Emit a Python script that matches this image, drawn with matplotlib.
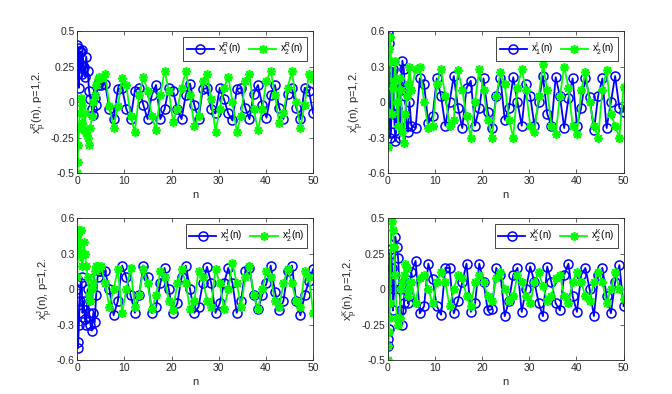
import numpy as np
import matplotlib
matplotlib.use('Agg')
import matplotlib.pyplot as plt

plt.rcParams['font.family'] = ['Liberation Sans', 'DejaVu Sans']
plt.rcParams['mathtext.fontset'] = 'custom'
plt.rcParams['mathtext.rm'] = 'Liberation Sans'

# sample points (solver output, dense at the start)
n = [0, 0.1, 0.2, 0.35, 0.5, 0.7, 0.9, 1.1, 1.35, 1.6, 1.9, 2.2, 2.5, 2.8, 3.1,
     3.4, 3.7, 4.0, 4.3, 4.6,
     5.0, 5.9, 6.8, 7.7, 8.6, 9.5, 10.4, 11.3, 12.2, 13.1, 14.0, 14.9, 15.8, 16.7,
     17.6, 18.5, 19.4, 20.3, 21.2, 22.1, 23.0, 23.9, 24.8, 25.7, 26.6, 27.5, 28.4,
     29.3, 30.2, 31.1, 32.0, 32.9, 33.8, 34.7, 35.6, 36.5, 37.4, 38.3, 39.2, 40.1,
     41.0, 41.9, 42.8, 43.7, 44.6, 45.5, 46.4, 47.3, 48.2, 49.1, 50.0]

x1R = [0.40, 0.38, 0.20, 0.10, 0.36, 0.35, 0.20, 0.37, 0.25, 0.18, 0.32, 0.22, 0.08, 0.02, -0.05,
       -0.09, 0.03, -0.02, 0.12, 0.14,
       0.12, 0.13, -0.05, -0.12, 0.09, 0.10, -0.05, -0.12, 0.08, 0.10, -0.02, -0.12, 0.05, 0.12,
       -0.12, -0.05, 0.10, 0.08, -0.05, -0.12, 0.05, 0.13, -0.02, -0.12, 0.09, 0.10, -0.05,
       -0.08, 0.10, 0.02, -0.08, -0.13, 0.09, 0.10, -0.04, -0.12, 0.06, 0.12, -0.02, -0.11,
       0.05, 0.12, -0.04, -0.12, 0.06, 0.10, -0.04, -0.12, 0.10, 0.08, -0.08]
x2R = [-0.50, -0.42, -0.30, -0.18, -0.08, 0.03, -0.02, -0.15, -0.20, -0.08, -0.22, -0.25, -0.30, -0.18, -0.10,
       0.00, 0.05, 0.12, 0.16, 0.18,
       0.17, 0.20, -0.03, -0.18, -0.03, 0.17, 0.12, -0.10, -0.21, 0.05, 0.18, 0.08, -0.10, -0.20,
       0.05, 0.22, 0.08, -0.14, -0.05, 0.10, 0.22, 0.05, -0.17, -0.10, 0.15, 0.20, 0.02,
       -0.21, -0.05, 0.10, 0.18, 0.00, -0.21, -0.10, 0.15, 0.20, -0.05, -0.20, -0.05, 0.15,
       0.22, 0.05, -0.15, -0.08, 0.10, 0.22, 0.00, -0.18, -0.02, 0.20, 0.16]

x1I = [0.55, 0.58, 0.50, 0.20, -0.30, -0.25, 0.25, 0.28, -0.10, -0.33, -0.05, 0.15, -0.30, 0.10, 0.35,
       0.28, 0.05, -0.20, -0.25, 0.00,
       -0.20, -0.22, 0.20, 0.15, -0.18, -0.12, 0.20, 0.05, -0.20, 0.00, 0.22, -0.05, -0.22, 0.12,
       0.18, -0.20, -0.05, 0.20, -0.08, -0.22, 0.05, 0.20, -0.15, -0.05, 0.21, 0.00, -0.20,
       0.15, 0.05, -0.20, 0.00, 0.22, -0.10, -0.20, 0.21, 0.05, -0.22, 0.03, 0.20, -0.20,
       -0.05, 0.20, 0.04, -0.24, 0.05, 0.20, -0.22, 0.00, 0.22, -0.05, -0.08]
x2I = [-0.38, -0.08, 0.35, 0.45, 0.55, 0.35, -0.10, 0.12, 0.18, 0.35, 0.00, -0.20, 0.20, 0.10, -0.25,
       -0.35, -0.10, 0.05, 0.15, 0.30,
       0.10, 0.28, 0.30, 0.00, -0.22, -0.20, 0.15, 0.28, 0.05, -0.20, -0.15, 0.27, 0.10, -0.12,
       -0.30, 0.00, 0.28, 0.10, -0.15, -0.30, 0.05, 0.25, 0.15, -0.15, -0.30, 0.12, 0.28,
       0.10, -0.20, -0.25, 0.05, 0.32, 0.10, -0.20, -0.27, 0.05, 0.30, 0.12, -0.20, -0.27,
       0.10, 0.25, 0.00, -0.20, -0.30, 0.10, 0.27, -0.10, -0.20, -0.30, 0.13]

x1J = [0.00, -0.50, -0.45, -0.30, -0.10, 0.05, 0.10, -0.20, -0.10, -0.25, -0.30, 0.00, -0.20, -0.30, -0.35,
       -0.20, -0.28, -0.05, 0.10, 0.15,
       0.15, 0.15, 0.00, -0.22, -0.10, 0.20, 0.10, -0.05, -0.20, -0.05, 0.20, 0.10, -0.20, -0.15,
       0.05, 0.18, 0.00, -0.20, -0.12, 0.10, 0.20, 0.00, -0.20, -0.15, 0.05, 0.19, 0.05,
       -0.20, -0.12, 0.05, 0.18, 0.05, -0.20, -0.10, 0.15, 0.18, -0.05, -0.17, -0.05, 0.05,
       0.20, -0.02, -0.18, -0.10, 0.15, 0.20, -0.10, -0.22, -0.05, 0.07, 0.17]
x2J = [0.10, 0.30, 0.50, 0.48, 0.28, 0.50, 0.30, 0.20, 0.40, 0.30, 0.20, 0.10, -0.05, -0.10, 0.00,
       0.05, 0.15, 0.20, 0.20, 0.18,
       0.20, 0.05, -0.15, 0.00, 0.17, -0.20, 0.00, 0.18, -0.15, -0.05, 0.17, 0.05, -0.17, -0.05,
       0.15, 0.10, -0.10, -0.18, 0.05, 0.17, 0.05, -0.17, -0.10, 0.15, 0.10, -0.10, -0.15,
       0.17, 0.05, -0.17, 0.00, 0.22, 0.05, -0.15, 0.10, 0.20, -0.05, -0.17, 0.00, 0.15,
       0.10, -0.10, -0.15, 0.05, 0.17, 0.05, -0.10, -0.15, 0.15, 0.10, -0.20]

x1K = [-0.40, -0.35, -0.28, 0.05, 0.25, 0.28, 0.15, -0.15, 0.00, 0.37, 0.30, 0.22, 0.00, -0.15, -0.25,
       -0.10, 0.05, 0.10, -0.10, -0.05,
       0.12, 0.20, -0.17, -0.12, 0.18, 0.07, -0.12, -0.18, 0.15, 0.15, -0.17, -0.08, 0.05, 0.18,
       -0.16, -0.10, 0.18, 0.05, -0.15, -0.14, 0.15, 0.10, -0.19, -0.08, 0.10, 0.15, -0.16,
       0.00, 0.16, 0.05, -0.10, -0.19, 0.16, 0.05, -0.10, -0.15, 0.10, 0.18, -0.05, -0.16,
       0.10, 0.15, 0.00, -0.19, 0.10, 0.15, -0.05, -0.17, 0.05, 0.17, -0.12]
x2K = [-0.50, -0.40, -0.30, -0.20, -0.10, 0.50, 0.48, 0.42, 0.30, 0.10, -0.20, -0.25, -0.20, 0.00, 0.05,
       0.10, 0.18, 0.15, -0.05, 0.00,
       0.05, -0.10, 0.08, 0.10, 0.00, -0.10, 0.05, 0.12, 0.05, -0.12, 0.00, 0.10, 0.08, -0.05,
       -0.12, 0.05, 0.10, 0.05, -0.05, -0.08, 0.08, 0.12, 0.00, -0.08, -0.05, 0.10, 0.05,
       -0.05, -0.10, 0.05, 0.12, 0.02, -0.08, -0.05, 0.08, 0.10, -0.05, -0.10, 0.05, 0.12,
       0.05, -0.05, -0.08, 0.05, 0.12, 0.05, -0.10, 0.00, 0.12, 0.00, -0.07]

panels = [('R', x1R, x2R, 0.5, [-0.5, -0.25, 0, 0.25, 0.5], ['-0.5', '-0.25', '0', '0.25', '0.5']),
          ('I', x1I, x2I, 0.6, [-0.6, -0.3, 0, 0.3, 0.6], ['-0.6', '-0.3', '0', '0.3', '0.6']),
          ('J', x1J, x2J, 0.6, [-0.6, -0.3, 0, 0.3, 0.6], ['-0.6', '-0.3', '0', '0.3', '0.6']),
          ('K', x1K, x2K, 0.5, [-0.5, -0.25, 0, 0.25, 0.5], ['-0.5', '-0.25', '0', '0.25', '0.5'])]

pos = [[0.115, 0.561, 0.351, 0.360], [0.577, 0.561, 0.351, 0.360],
       [0.115, 0.086, 0.351, 0.360], [0.577, 0.086, 0.351, 0.360]]

star = (8, 2, 0)  # asterisk, like the matlab '*'

fig = plt.figure(figsize=(6.72, 3.94), dpi=100)
txt = '#262626'
for p, (sym, a, b, lim, yt, ytl) in zip(pos, panels):
    ax = fig.add_axes(p)
    ax.plot(n, a, '-', marker='o', color='#0000ff', lw=1.3, ms=6.5, mfc='none', mew=1.1,
            label=r'$\mathregular{x_1^%s(n)}$' % sym)
    ax.plot(n, b, '-', marker=star, color='#00ff00', lw=1.3, ms=6.5, mew=1.2,
            label=r'$\mathregular{x_2^%s(n)}$' % sym)
    ax.set_xlim(0, 50)
    ax.set_ylim(-lim, lim)
    ax.set_xticks([0, 10, 20, 30, 40, 50])
    ax.set_yticks(yt)
    ax.set_yticklabels(ytl)
    ax.tick_params(direction='in', top=True, right=True, labelsize=7.5,
                   colors=txt, length=3, width=0.5, pad=2)
    for s in ax.spines.values():
        s.set_linewidth(0.6)
        s.set_color(txt)
    ax.set_xlabel('n', fontsize=8, color=txt, labelpad=3)
    ax.set_ylabel(r'$\mathregular{x_p^%s(n)}$, p=1,2.' % sym, fontsize=8, color=txt, labelpad=1)
    leg = ax.legend(loc='upper right', ncol=2, fontsize=7, frameon=True, fancybox=False,
                    edgecolor=txt, framealpha=1, handlelength=2.8, columnspacing=0.8,
                    borderpad=0.35, handletextpad=0.4, borderaxespad=0.6)
    leg.get_frame().set_linewidth(0.6)

fig.savefig('out.png', dpi=100)
